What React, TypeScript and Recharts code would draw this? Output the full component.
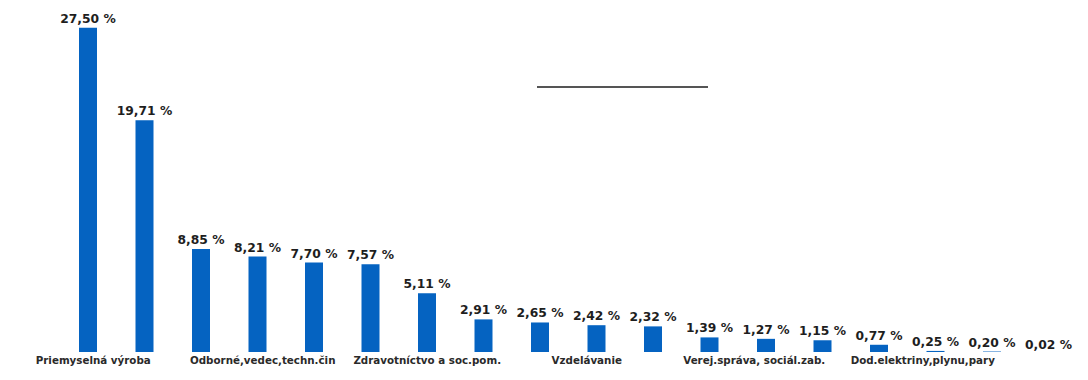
import { Bar, BarChart, XAxis, YAxis, LabelList } from "recharts";

// sector names – only every third one is printed under the axis
const categories = [
  "Priemyselná výroba", "", "",
  "Odborné,vedec,techn.čin", "", "",
  "Zdravotníctvo a soc.pom.", "", "",
  "Vzdelávanie", "", "",
  "Verej.správa, sociál.zab.", "", "",
  "Dod.elektriny,plynu,pary", "", "",
];

const shares = [
  27.5, 19.71, 8.85, 8.21, 7.7, 7.57, 5.11, 2.91, 2.65,
  2.42, 2.32, 1.39, 1.27, 1.15, 0.77, 0.25, 0.2, 0.02,
];

const data = shares.map((v, i) => ({ idx: i, name: categories[i], value: v }));

// small nudges so the axis names sit where the original put them
const tickShift: Record<number, number> = { 0: 5, 3: 5, 6: 0, 9: -10, 12: -12, 15: -13 };

const fmt = (v: number) => `${v.toFixed(2).replace(".", ",")} %`;

function CategoryTick(props: any) {
  const { x, y, payload } = props;
  const label = categories[payload.value];
  if (!label) return null;
  const dx = tickShift[payload.value] ?? 0;
  return (
    <text
      x={x + dx}
      y={y + 12}
      textAnchor="middle"
      fontFamily="'DejaVu Sans', sans-serif"
      fontWeight="bold"
      fontSize={10.3}
      fill="#2a2a2a"
    >
      {label}
    </text>
  );
}

function ValueLabel(props: any) {
  const { x, y, width, value } = props;
  const cx = Number(x) + Number(width) / 2;
  return (
    <text
      x={cx}
      y={Number(y) - 5}
      textAnchor="middle"
      fontFamily="'DejaVu Sans', sans-serif"
      fontWeight="bold"
      fontSize={12.3}
      fill="#1e1e1e"
    >
      {fmt(Number(value))}
    </text>
  );
}

export default function App() {
  return (
    <div style={{ position: "absolute", left: 0, top: 0, width: 1088, height: 380, background: "#fff" }}>
      <BarChart
        width={1088}
        height={380}
        data={data}
        margin={{ top: 10, right: 11, left: 60, bottom: 0 }}
        barSize={18}
      >
        <XAxis
          dataKey="idx"
          type="category"
          interval={0}
          axisLine={false}
          tickLine={false}
          tickSize={0}
          tickMargin={0}
          height={28}
          tick={<CategoryTick />}
        />
        <YAxis hide domain={[0.16, 29]} allowDataOverflow />
        <Bar dataKey="value" fill="#0563c1" isAnimationActive={false}>
          <LabelList dataKey="value" content={<ValueLabel />} />
        </Bar>
      </BarChart>
      <div
        style={{
          position: "absolute",
          left: 537,
          top: 86,
          width: 171,
          height: 2,
          background: "#555",
        }}
      />
    </div>
  );
}
